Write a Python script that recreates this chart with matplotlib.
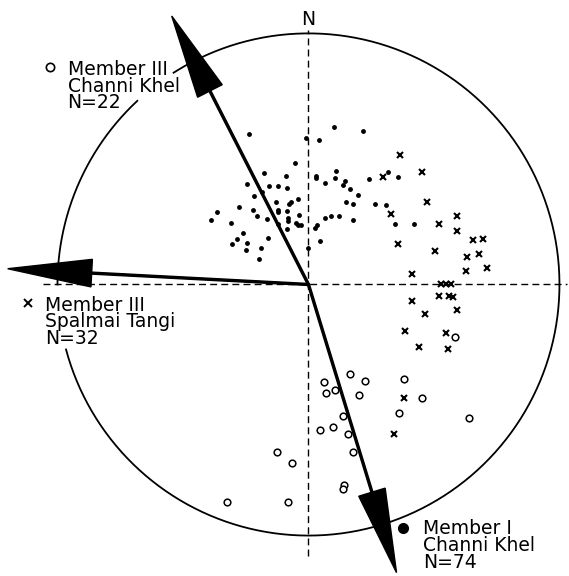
import numpy as np
import matplotlib.pyplot as plt

# equal-area net, coordinates in units of the net radius (east, north)
dots_x = [-0.236, -0.011, -0.054, -0.176, -0.090, -0.246, -0.157, -0.122, -0.086, -0.186,
          -0.217, -0.131, -0.076, -0.071, -0.041, -0.276, -0.363, -0.221, -0.120, -0.123,
          -0.087, -0.037, -0.206, -0.390, -0.165, -0.083, -0.083, -0.309, -0.123, -0.050,
          -0.042, -0.031, -0.086, -0.260, -0.284, -0.161, -0.305, -0.246, -0.249, -0.190,
          -0.198, 0.100, 0.218, 0.043, 0.030, 0.030, 0.111, 0.107, 0.065, 0.144,
          0.136, 0.167, 0.240, 0.197, 0.316, 0.355, 0.148, 0.178, 0.265, 0.310,
          0.346, 0.123, 0.091, 0.067, 0.176, 0.034, 0.026, 0.045, 0.422, -0.001]
dots_y = [0.600, 0.585, 0.483, 0.443, 0.433, 0.400, 0.394, 0.394, 0.383, 0.370,
          0.354, 0.327, 0.321, 0.329, 0.341, 0.308, 0.289, 0.297, 0.297, 0.287,
          0.294, 0.277, 0.272, 0.258, 0.262, 0.265, 0.251, 0.245, 0.240, 0.244,
          0.236, 0.238, 0.220, 0.204, 0.182, 0.185, 0.163, 0.164, 0.139, 0.145,
          0.102, 0.626, 0.610, 0.575, 0.433, 0.424, 0.453, 0.424, 0.403, 0.414,
          0.396, 0.379, 0.422, 0.355, 0.449, 0.427, 0.330, 0.321, 0.321, 0.316,
          0.241, 0.274, 0.273, 0.265, 0.258, 0.236, 0.224, 0.175, 0.241, 0.147]

cross_x = [0.365, 0.298, 0.453, 0.472, 0.327, 0.592, 0.521, 0.592, 0.657, 0.694,
           0.355, 0.504, 0.631, 0.680, 0.712, 0.627, 0.414, 0.527, 0.548, 0.568,
           0.520, 0.560, 0.577, 0.411, 0.464, 0.593, 0.384, 0.548, 0.439, 0.557,
           0.382, 0.339]
cross_y = [0.517, 0.429, 0.449, 0.327, 0.279, 0.274, 0.240, 0.213, 0.178, 0.182,
           0.163, 0.132, 0.111, 0.120, 0.065, 0.054, 0.043, 0.002, 0.002, 0.002,
           -0.045, -0.045, -0.051, -0.066, -0.118, -0.102, -0.184, -0.192, -0.248, -0.256,
           -0.451, -0.597]

circ_x = [0.165, 0.062, 0.224, 0.071, 0.107, 0.202, 0.139, 0.047, 0.096, 0.156,
          0.176, -0.125, -0.065, 0.141, 0.139, -0.325, -0.083, 0.584, 0.379, 0.453,
          0.361, 0.639]
circ_y = [-0.358, -0.390, -0.386, -0.431, -0.422, -0.439, -0.524, -0.578, -0.569, -0.594,
          -0.666, -0.669, -0.711, -0.798, -0.816, -0.865, -0.868, -0.208, -0.378, -0.453,
          -0.513, -0.533]

# mean declinations (deg from N): Member III Channi Khel, Member III Spalmai Tangi, Member I Channi Khel
mean_dec = [333.0, 273.0, 163.0]

labels = [['Member III', 'Channi Khel', 'N=22'],
          ['Member III', 'Spalmai Tangi', 'N=32'],
          ['Member I', 'Channi Khel', 'N=74']]

fig = plt.figure(figsize=(5.69, 5.76), dpi=100)
ax = fig.add_axes([0, 0, 1, 1])
ax.set_xlim(-1.229, 1.038)
ax.set_ylim(-1.161, 1.133)
ax.axis('off')

# primitive circle, broken where the labels sit
for t0, t1 in [(133, 180), (195, 482.5)]:
    t = np.radians(np.linspace(t0, t1, 300))
    ax.plot(np.cos(t), np.sin(t), color='black', lw=1.3)

# N-S and E-W dashed axes
ax.plot([0, 0], [-1.082, 1.014], color='black', lw=1.0, dashes=(5, 3))
ax.plot([-1.058, 1.03], [0, 0], color='black', lw=1.0, dashes=(5, 3))
ax.text(0, 1.034, 'N', ha='center', va='baseline', fontsize=13.5)

ax.plot(dots_x, dots_y, 'o', color='black', ms=3.5, mew=0)
ax.plot(cross_x, cross_y, 'x', color='black', ms=4.5, mew=1.5)
ax.plot(circ_x, circ_y, 'o', mfc='white', mec='black', ms=4.8, mew=1.1)

# mean direction arrows
for d in mean_dec:
    dx = 1.2 * np.sin(np.radians(d))
    dy = 1.2 * np.cos(np.radians(d))
    ax.arrow(0, 0, dx, dy, width=0.008, head_width=0.11, head_length=0.335,
             length_includes_head=True, color='black', zorder=5)

# labels, one text per line (baseline of first line)
lab_pos = [(-0.960, 0.834), (-1.050, -0.104), (0.456, -0.995)]
sym_pos = [(-1.030, 0.867), (-1.118, -0.074), (0.376, -0.970)]
sym_style = [dict(marker='o', mfc='white', mec='black', ms=6, mew=1.2),
             dict(marker='x', color='black', ms=6, mew=1.4),
             dict(marker='o', color='black', ms=8, mew=0)]
for lines, (tx, ty), (sx, sy), st in zip(labels, lab_pos, sym_pos, sym_style):
    ax.plot([sx], [sy], ls='none', **st)
    for i, s in enumerate(lines):
        ax.text(tx, ty - i * 0.0665, s, ha='left', va='baseline', fontsize=13.5)

fig.savefig('out.png', dpi=100)
